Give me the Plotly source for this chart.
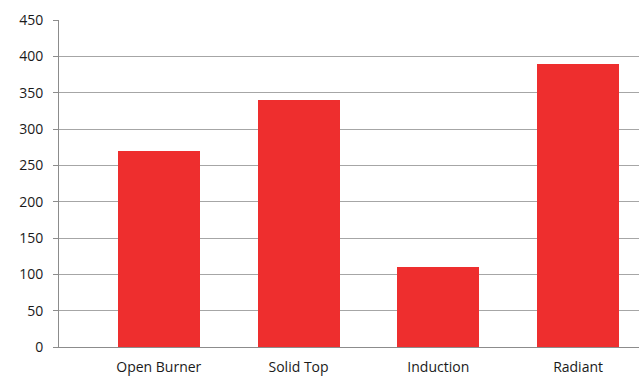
import plotly.graph_objects as go

categories = ["Open Burner", "Solid Top", "Induction", "Radiant"]
values = [270, 340, 110, 390]
y_ticks = [0, 50, 100, 150, 200, 250, 300, 350, 400, 450]

fig = go.Figure(go.Bar(x=list(range(len(categories))), y=values,
                       marker=dict(color="#EE2E2E", line=dict(width=0)), width=0.586))

fig.update_layout(
    width=639, height=376,
    margin=dict(l=59, r=0, t=20, b=22),
    plot_bgcolor="white", paper_bgcolor="white",
    showlegend=False, bargap=0,
    font=dict(family="Open Sans, Liberation Sans, sans-serif", size=14, color="#1a1a1a"),
)
fig.update_xaxes(
    range=[-0.714, 3.436], tickmode="array",
    tickvals=list(range(len(categories))), ticktext=categories,
    showline=True, linecolor="#8c8c8c", linewidth=1,
    showgrid=False, ticks="", ticklabelstandoff=7, zeroline=False,
)
fig.update_yaxes(
    range=[0, 450], tickmode="array", tickvals=y_ticks,
    showline=True, linecolor="#8c8c8c", linewidth=1,
    showgrid=True, gridcolor="#a6a6a6", gridwidth=1,
    ticks="outside", ticklen=5, tickcolor="#8c8c8c",
    ticklabelstandoff=7, zeroline=False,
)
fig.write_html("out.html")
